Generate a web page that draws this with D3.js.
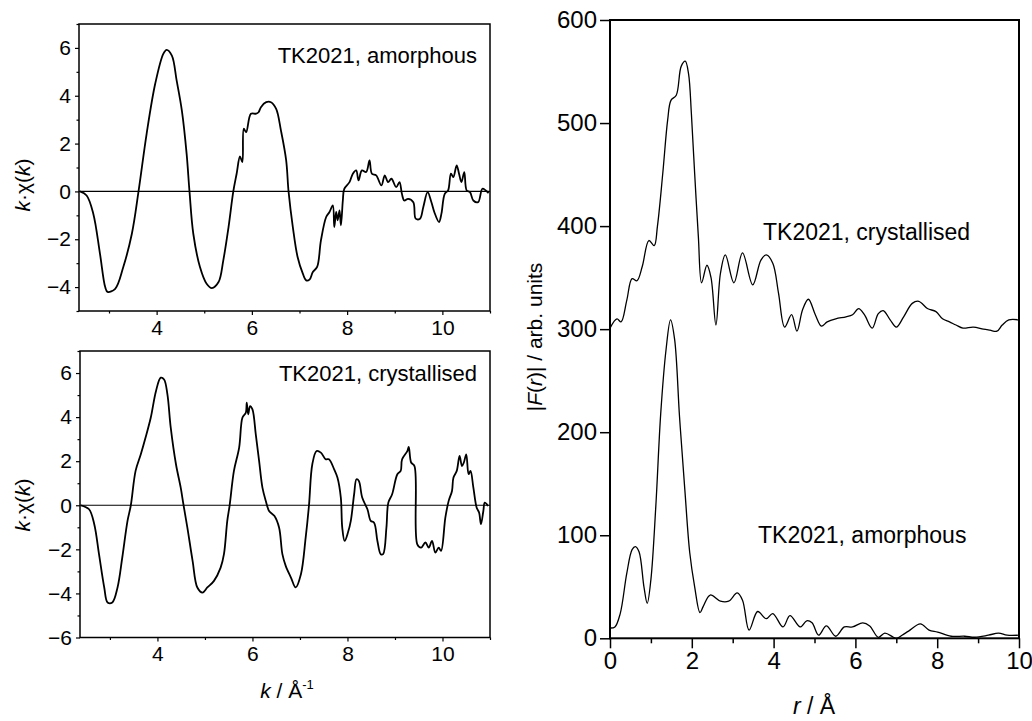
<!DOCTYPE html>
<html>
<head>
<meta charset="utf-8">
<script src="https://cdn.jsdelivr.net/npm/d3@7/dist/d3.min.js"></script>
<style>
  body { margin: 0; background: #fff; }
  text { font-family: "Liberation Sans", Arial, sans-serif; fill: #000; }
</style>
</head>
<body>
<svg id="chart" width="1032" height="721"></svg>
<script>
// EXAFS k·chi(k), amorphous sample
var kAmorph = [2.39, 2.53, 2.67, 2.81, 2.92, 2.97, 3.13, 3.30, 3.48, 3.62, 3.79, 3.97, 4.14, 4.21, 4.32, 4.42, 4.53, 4.63, 4.69, 4.77, 4.91, 5.05, 5.16, 5.30, 5.40, 5.51, 5.61, 5.68, 5.75, 5.80, 5.83, 5.88, 5.98, 6.09, 6.14, 6.19, 6.30, 6.40, 6.51, 6.61, 6.72, 6.77, 6.86, 6.96, 7.07, 7.14, 7.21, 7.28, 7.37, 7.45, 7.56, 7.63, 7.70, 7.73, 7.77, 7.80, 7.84, 7.87, 7.91, 7.94, 8.05, 8.12, 8.19, 8.24, 8.31, 8.40, 8.47, 8.52, 8.61, 8.72, 8.79, 8.86, 8.93, 9.03, 9.10, 9.15, 9.20, 9.28, 9.39, 9.44, 9.53, 9.60, 9.69, 9.77, 9.83, 9.93, 9.98, 10.05, 10.12, 10.18, 10.23, 10.30, 10.35, 10.40, 10.46, 10.51, 10.58, 10.65, 10.75, 10.84, 10.91, 10.97];
var chiAmorph = [0, -0.17, -0.93, -2.6, -4.0, -4.2, -4.07, -3.16, -1.77, 0, 2.41, 4.5, 5.75, 5.92, 5.68, 4.64, 3.38, 1.57, 0, -1.77, -3.16, -3.86, -4.04, -3.79, -2.88, -1.49, 0, 0.74, 1.46, 1.23, 2.62, 2.48, 3.25, 3.25, 3.31, 3.52, 3.73, 3.73, 3.45, 2.55, 1.30, 0, -1.49, -2.74, -3.44, -3.72, -3.69, -3.37, -3.16, -2.05, -1.07, -0.86, -0.58, -1.49, -0.86, -1.21, -0.79, -1.42, -0.38, 0.11, 0.39, 0.74, 0.88, 0.46, 0.88, 0.81, 1.30, 0.74, 0.67, 0.25, 0.67, 0.39, 0.53, 0.18, 0.39, -0.10, -0.38, -0.31, -0.45, -1.14, -1.14, -0.65, -0.03, -0.45, -0.86, -1.28, -0.93, -0.10, 0.04, 0.74, 0.60, 1.09, 0.74, 0.39, 0.81, 0.04, -0.03, -0.38, -0.45, 0.11, 0.04, -0.07];

// EXAFS k·chi(k), crystallised sample
var kCryst = [2.39, 2.56, 2.67, 2.77, 2.88, 2.95, 3.05, 3.16, 3.26, 3.37, 3.44, 3.54, 3.65, 3.75, 3.86, 3.97, 4.07, 4.14, 4.21, 4.28, 4.39, 4.49, 4.55, 4.63, 4.74, 4.84, 4.95, 5.05, 5.19, 5.33, 5.40, 5.47, 5.52, 5.61, 5.72, 5.79, 5.86, 5.88, 5.91, 5.95, 6.00, 6.07, 6.14, 6.21, 6.28, 6.35, 6.46, 6.56, 6.63, 6.70, 6.81, 6.91, 7.02, 7.12, 7.19, 7.26, 7.35, 7.44, 7.54, 7.61, 7.72, 7.79, 7.86, 7.89, 7.94, 8.01, 8.07, 8.14, 8.19, 8.24, 8.31, 8.42, 8.49, 8.56, 8.63, 8.70, 8.75, 8.82, 8.86, 8.94, 9.05, 9.12, 9.15, 9.26, 9.29, 9.34, 9.41, 9.47, 9.55, 9.64, 9.71, 9.78, 9.85, 9.92, 9.97, 10.06, 10.13, 10.20, 10.23, 10.30, 10.36, 10.41, 10.45, 10.50, 10.55, 10.59, 10.65, 10.72, 10.77, 10.81, 10.86, 10.89, 10.96];
var chiCryst = [0, -0.18, -0.86, -2.22, -3.73, -4.41, -4.41, -3.73, -2.37, -0.71, 0, 1.56, 2.31, 3.07, 3.98, 5.19, 5.79, 5.71, 5.03, 3.52, 1.86, 0.80, 0, -1.01, -2.52, -3.73, -3.96, -3.73, -3.43, -2.83, -2.22, -0.71, 0, 1.56, 2.62, 3.98, 4.20, 4.66, 4.13, 4.50, 4.35, 3.22, 2.01, 0.80, 0.20, -0.26, -0.48, -1.01, -2.22, -2.75, -3.28, -3.73, -3.13, -1.47, 0, 1.86, 2.46, 2.39, 2.09, 2.09, 1.63, 1.25, 0.35, -1.01, -1.62, -1.24, -0.71, 0.50, 1.18, 1.10, 0.35, -0.18, -0.71, -0.79, -1.62, -2.22, -2.22, -1.01, 0.12, 0.50, 1.41, 1.56, 2.09, 2.46, 2.65, 1.94, 1.78, -1.77, -1.92, -1.69, -1.92, -1.62, -2.15, -1.92, -2.07, -0.56, 0.20, 0.65, 1.25, 1.56, 2.24, 1.78, 1.94, 2.31, 1.41, 1.56, 0.80, -0.11, -0.33, -0.86, -0.26, 0.12, -0.03];

// Fourier transform |F(r)|, crystallised (offset by 300)
var rCryst = [0, 0.17, 0.27, 0.41, 0.54, 0.66, 0.79, 0.95, 1.08, 1.16, 1.29, 1.41, 1.49, 1.62, 1.74, 1.84, 1.92, 1.99, 2.07, 2.16, 2.24, 2.37, 2.47, 2.59, 2.70, 2.82, 3.03, 3.24, 3.49, 3.69, 3.82, 3.98, 4.12, 4.27, 4.44, 4.57, 4.71, 4.85, 5.02, 5.17, 5.31, 5.52, 5.77, 5.93, 6.08, 6.22, 6.41, 6.56, 6.68, 6.85, 7.00, 7.18, 7.39, 7.55, 7.76, 7.97, 8.13, 8.30, 8.46, 8.63, 8.88, 9.13, 9.29, 9.46, 9.59, 9.75, 10];
var fCryst = [301, 310, 307, 328, 349, 347, 361, 386, 381, 400, 451, 503, 522, 527, 555, 560, 548, 509, 451, 390, 345, 362, 350, 304, 354, 372, 345, 374, 343, 367, 372, 364, 335, 302, 314, 298, 319, 329, 314, 303, 307, 310, 312, 314, 320, 314, 301, 315, 318, 309, 302, 312, 325, 327, 320, 317, 310, 307, 304, 301, 302, 300, 299, 298, 304, 309, 309];

// Fourier transform |F(r)|, amorphous
var rAmorph = [0, 0.12, 0.25, 0.41, 0.54, 0.62, 0.71, 0.83, 0.91, 1.00, 1.12, 1.24, 1.37, 1.48, 1.58, 1.70, 1.83, 1.95, 2.07, 2.20, 2.28, 2.45, 2.70, 2.90, 3.11, 3.24, 3.40, 3.61, 3.82, 3.98, 4.23, 4.40, 4.65, 4.81, 4.94, 5.10, 5.29, 5.52, 5.73, 5.93, 6.18, 6.35, 6.56, 6.72, 6.93, 7.01, 7.14, 7.30, 7.59, 7.80, 8.01, 8.34, 8.67, 8.92, 9.25, 9.50, 9.71, 10];
var fAmorph = [10, 11, 24, 63, 86, 89, 84, 50, 34, 57, 128, 218, 280, 309, 290, 215, 144, 83, 50, 25, 31, 42, 36, 36, 44, 37, 8, 26, 19, 24, 11, 22, 11, 17, 15, 3, 12, 2, 11, 11, 15, 12, 1, 5, 1, 0, 3, 7, 14, 8, 6, 2, 2, 1, 3, 5, 3, 3];

// tick values
var kMajor = [4, 6, 8, 10];
var kMinor = [3, 5, 7, 9, 11];
var chiTopMajor = [-4, -2, 0, 2, 4, 6];
var chiTopMinor = [-5, -3, -1, 1, 3, 5, 7];
var chiBotMajor = [-6, -4, -2, 0, 2, 4, 6];
var chiBotMinor = [-5, -3, -1, 1, 3, 5, 7];
var rMajor = [0, 2, 4, 6, 8, 10];
var rMinor = [1, 3, 5, 7, 9];
var fMajor = [0, 100, 200, 300, 400, 500, 600];

var svg = d3.select("#chart");

function zip(xs, ys) {
  return xs.map(function(x, i) { return [x, ys[i]]; });
}

// one left-hand chi(k) panel
function chiPanel(p) {
  var x = d3.scaleLinear().domain([2.37, 11.0]).range([p.left, p.right]);
  var y = d3.scaleLinear().domain(p.yDomain).range([p.bottom, p.top]);
  var g = svg.append("g");

  // minor ticks
  g.append("g").attr("transform", "translate(0," + p.bottom + ")")
    .call(d3.axisBottom(x).tickValues(kMinor).tickSize(2.5).tickFormat(""));
  g.append("g").attr("transform", "translate(" + p.left + ",0)")
    .call(d3.axisLeft(y).tickValues(p.yMinor).tickSize(2.5).tickFormat(""));
  // major ticks
  g.append("g").attr("class", "lab").attr("transform", "translate(0," + p.bottom + ")")
    .call(d3.axisBottom(x).tickValues(kMajor).tickSize(4).tickPadding(5).tickFormat(d3.format("d")));
  g.append("g").attr("class", "lab").attr("transform", "translate(" + p.left + ",0)")
    .call(d3.axisLeft(y).tickValues(p.yMajor).tickSize(4).tickPadding(4).tickFormat(d3.format("d")));

  g.selectAll(".domain").remove();
  g.selectAll(".tick line").attr("stroke", "#000").attr("stroke-width", 1.2);
  g.selectAll(".lab text").attr("font-size", 21).attr("fill", "#000")
    .style("font-family", '"Liberation Sans", Arial, sans-serif');

  // zero line
  g.append("line")
    .attr("x1", p.left).attr("x2", p.right)
    .attr("y1", y(0)).attr("y2", y(0))
    .attr("stroke", "#000").attr("stroke-width", 1.1);

  // frame
  g.append("rect")
    .attr("x", p.left).attr("y", p.top)
    .attr("width", p.right - p.left).attr("height", p.bottom - p.top)
    .attr("fill", "none").attr("stroke", "#000").attr("stroke-width", 1.5);

  var line = d3.line()
    .x(function(d) { return x(d[0]); })
    .y(function(d) { return y(d[1]); })
    .curve(d3.curveCatmullRom.alpha(0.5));

  g.append("path")
    .datum(zip(p.k, p.chi))
    .attr("d", line)
    .attr("fill", "none").attr("stroke", "#000").attr("stroke-width", 1.8);

  // annotation
  g.append("text")
    .attr("x", p.right - 13).attr("y", p.top + p.noteDy)
    .attr("text-anchor", "end").attr("font-size", 22)
    .text(p.note);

  // y label k·χ(k)
  var yl = g.append("text")
    .attr("transform", "translate(30," + p.labelY + ") rotate(-90)")
    .attr("text-anchor", "middle").attr("font-size", 21);
  yl.append("tspan").attr("font-style", "italic").text("k");
  yl.append("tspan").text("·χ(");
  yl.append("tspan").attr("font-style", "italic").text("k");
  yl.append("tspan").text(")");
}

chiPanel({
  left: 79, right: 490, top: 24, bottom: 311,
  yDomain: [-5, 7], yMajor: chiTopMajor, yMinor: chiTopMinor,
  k: kAmorph, chi: chiAmorph,
  note: "TK2021, amorphous", noteDy: 39, labelY: 185
});

chiPanel({
  left: 80, right: 490, top: 351, bottom: 637.5,
  yDomain: [-6, 7], yMajor: chiBotMajor, yMinor: chiBotMinor,
  k: kCryst, chi: chiCryst,
  note: "TK2021, crystallised", noteDy: 30, labelY: 505
});

// x label for left column: k / Å^-1
var kl = svg.append("text")
  .attr("x", 287).attr("y", 698)
  .attr("text-anchor", "middle").attr("font-size", 21);
kl.append("tspan").attr("font-style", "italic").text("k");
kl.append("tspan").text(" / Å");
kl.append("tspan").attr("font-size", 13).attr("dy", -9).text("-1");

// right panel: |F(r)|
var rp = { left: 610, right: 1019, top: 20, bottom: 638.3 };
var xr = d3.scaleLinear().domain([0, 10]).range([rp.left, rp.right]);
var yr = d3.scaleLinear().domain([0, 600]).range([rp.bottom, rp.top]);
var gr = svg.append("g");

gr.append("g").attr("transform", "translate(0," + rp.bottom + ")")
  .call(d3.axisBottom(xr).tickValues(rMinor).tickSize(5).tickFormat(""));
gr.append("g").attr("class", "lab").attr("transform", "translate(0," + rp.bottom + ")")
  .call(d3.axisBottom(xr).tickValues(rMajor).tickSize(10).tickPadding(4).tickFormat(d3.format("d")));
gr.append("g").attr("class", "lab").attr("transform", "translate(" + rp.left + ",0)")
  .call(d3.axisLeft(yr).tickValues(fMajor).tickSize(10).tickPadding(3).tickFormat(d3.format("d")));

gr.selectAll(".domain").remove();
gr.selectAll(".tick line").attr("stroke", "#000").attr("stroke-width", 1.5);
gr.selectAll(".lab text").attr("font-size", 24).attr("fill", "#000")
  .style("font-family", '"Liberation Sans", Arial, sans-serif');

gr.append("rect")
  .attr("x", rp.left).attr("y", rp.top)
  .attr("width", rp.right - rp.left).attr("height", rp.bottom - rp.top)
  .attr("fill", "none").attr("stroke", "#000").attr("stroke-width", 2);

var lineR = d3.line()
  .x(function(d) { return xr(d[0]); })
  .y(function(d) { return yr(d[1]); })
  .curve(d3.curveCatmullRom.alpha(0.5));

gr.append("path").datum(zip(rCryst, fCryst)).attr("d", lineR)
  .attr("fill", "none").attr("stroke", "#000").attr("stroke-width", 1.3);
gr.append("path").datum(zip(rAmorph, fAmorph)).attr("d", lineR)
  .attr("fill", "none").attr("stroke", "#000").attr("stroke-width", 1.3);

gr.append("text").attr("x", 763).attr("y", 240).attr("font-size", 23)
  .text("TK2021, crystallised");
gr.append("text").attr("x", 758).attr("y", 543).attr("font-size", 23)
  .text("TK2021, amorphous");

// y label |F(r)| / arb. units
var fl = gr.append("text")
  .attr("transform", "translate(542,337) rotate(-90)")
  .attr("text-anchor", "middle").attr("font-size", 21);
fl.append("tspan").text("|");
fl.append("tspan").attr("font-style", "italic").text("F");
fl.append("tspan").text("(");
fl.append("tspan").attr("font-style", "italic").text("r");
fl.append("tspan").text(")| / arb. units");

// x label r / Å
var rl = gr.append("text")
  .attr("x", 814).attr("y", 714)
  .attr("text-anchor", "middle").attr("font-size", 23);
rl.append("tspan").attr("font-style", "italic").text("r");
rl.append("tspan").text(" / Å");
</script>
</body>
</html>
